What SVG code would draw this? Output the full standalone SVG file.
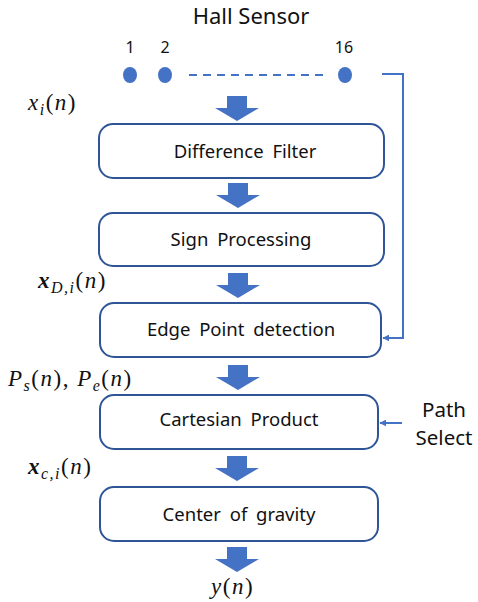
<svg xmlns="http://www.w3.org/2000/svg" width="478" height="602" viewBox="0 0 478 602">
  <defs>
    <marker id="tip" viewBox="0 0 10 10" refX="9" refY="5" markerWidth="7" markerHeight="7" markerUnits="userSpaceOnUse" orient="auto">
      <path d="M0,0 L10,5 L0,10 z" fill="#4472C4"/>
    </marker>
    <path id="blk" d="M-10,0 H10 V12 H22 L0,25 L-22,12 H-10 Z" fill="#4472C4"/>
  </defs>
  <style>
    .box { fill: #ffffff; stroke: #2F5597; stroke-width: 2; }
    .lbl { font-family: "Noto Sans", "Open Sans", "Liberation Sans", sans-serif; font-size: 18.5px; fill: #111; text-anchor: middle; word-spacing: 4px; }
    .big { font-family: "Noto Sans", "Open Sans", "Liberation Sans", sans-serif; font-size: 22px; fill: #111; text-anchor: middle; }
    .side { font-family: "Noto Sans", "Open Sans", "Liberation Sans", sans-serif; font-size: 20.5px; fill: #111; text-anchor: middle; }
    .num { font-family: "Noto Sans", "Open Sans", "Liberation Sans", sans-serif; font-size: 16px; fill: #111; text-anchor: middle; }
    .math { font-family: "Liberation Serif", "DejaVu Serif", serif; font-style: italic; font-size: 23px; letter-spacing: 1.5px; fill: #111; }
    .sub { font-size: 16px; }
    .bold { font-weight: bold; }
    .wire { fill: none; stroke: #4472C4; stroke-width: 2; }
  </style>

  <!-- sensor array -->
  <g id="sensor">
    <text class="big" x="251" y="24">Hall Sensor</text>
    <text class="num" x="130" y="53">1</text>
    <text class="num" x="165" y="53">2</text>
    <text class="num" x="344" y="53">16</text>
    <ellipse cx="130" cy="75" rx="7" ry="8" fill="#4472C4"/>
    <ellipse cx="165" cy="75" rx="7" ry="8" fill="#4472C4"/>
    <ellipse cx="345" cy="75" rx="7" ry="8" fill="#4472C4"/>
    <line x1="189" y1="75" x2="323" y2="75" stroke="#4472C4" stroke-width="2" stroke-dasharray="8,6"/>
  </g>

  <!-- processing stages -->
  <g id="difference-filter">
    <rect class="box" x="99" y="124" width="285" height="54" rx="14"/>
    <text class="lbl" x="245" y="158">Difference Filter</text>
  </g>
  <g id="sign-processing">
    <rect class="box" x="99" y="213" width="285" height="53" rx="14"/>
    <text class="lbl" x="241" y="246">Sign Processing</text>
  </g>
  <g id="edge-point-detection">
    <rect class="box" x="100" y="303" width="281" height="54" rx="14"/>
    <text class="lbl" x="241" y="336">Edge Point detection</text>
  </g>
  <g id="cartesian-product">
    <rect class="box" x="100" y="395" width="278" height="54" rx="14"/>
    <text class="lbl" x="239" y="426">Cartesian Product</text>
  </g>
  <g id="center-of-gravity">
    <rect class="box" x="100" y="487" width="278" height="54" rx="14"/>
    <text class="lbl" x="239" y="521">Center of gravity</text>
  </g>

  <!-- side input -->
  <g id="path-select">
    <text class="side" x="444" y="417">Path</text>
    <text class="side" x="444" y="445">Select</text>
  </g>

  <!-- signal labels -->
  <g id="signals">
    <text class="math" x="28" y="110">x<tspan class="sub" dy="5">i</tspan><tspan dy="-5" font-style="normal">(</tspan>n<tspan font-style="normal">)</tspan></text>
    <text class="math" x="38" y="288"><tspan class="bold">x</tspan><tspan class="sub" dy="5">D,i</tspan><tspan dy="-5" font-style="normal">(</tspan>n<tspan font-style="normal">)</tspan></text>
    <text class="math" x="8" y="386">P<tspan class="sub" dy="5">s</tspan><tspan dy="-5" font-style="normal">(</tspan>n<tspan font-style="normal">), </tspan>P<tspan class="sub" dy="5">e</tspan><tspan dy="-5" font-style="normal">(</tspan>n<tspan font-style="normal">)</tspan></text>
    <text class="math" x="28" y="474"><tspan class="bold">x</tspan><tspan class="sub" dy="5">c,i</tspan><tspan dy="-5" font-style="normal">(</tspan>n<tspan font-style="normal">)</tspan></text>
    <text class="math" x="211" y="594">y<tspan font-style="normal">(</tspan>n<tspan font-style="normal">)</tspan></text>
  </g>

  <!-- connectors -->
  <g id="connectors">
    <use href="#blk" x="237" y="96"/>
    <use href="#blk" x="238" y="183"/>
    <use href="#blk" x="238" y="273"/>
    <use href="#blk" x="238" y="365"/>
    <use href="#blk" x="237" y="456"/>
    <use href="#blk" x="237" y="547"/>
    <polyline class="wire" points="382,74 403,74 403,338 383,338" marker-end="url(#tip)"/>
    <line class="wire" x1="402" y1="423" x2="380" y2="423" marker-end="url(#tip)"/>
  </g>
</svg>
